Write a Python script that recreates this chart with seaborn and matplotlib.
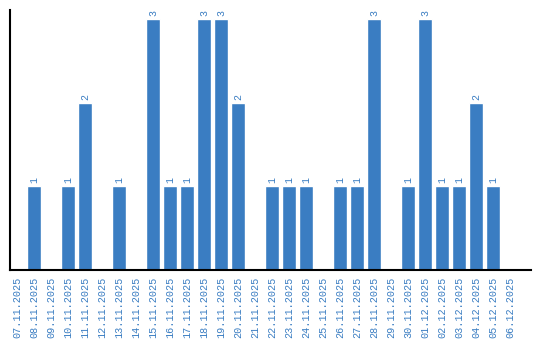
import matplotlib
matplotlib.use("Agg")
import matplotlib.pyplot as plt
import seaborn as sns
import pandas as pd

dates = ["07.11.2025", "08.11.2025", "09.11.2025", "10.11.2025", "11.11.2025",
         "12.11.2025", "13.11.2025", "14.11.2025", "15.11.2025", "16.11.2025",
         "17.11.2025", "18.11.2025", "19.11.2025", "20.11.2025", "21.11.2025",
         "22.11.2025", "23.11.2025", "24.11.2025", "25.11.2025", "26.11.2025",
         "27.11.2025", "28.11.2025", "29.11.2025", "30.11.2025", "01.12.2025",
         "02.12.2025", "03.12.2025", "04.12.2025", "05.12.2025", "06.12.2025"]
counts = [0, 1, 0, 1, 2, 0, 1, 0, 3, 1, 1, 3, 3, 2, 0,
          1, 1, 1, 0, 1, 1, 3, 0, 1, 3, 1, 1, 2, 1, 0]

BLUE = "#3a7dc2"
FONT = ["Liberation Mono", "DejaVu Sans Mono"]
df = pd.DataFrame({"date": dates, "count": counts})

sns.set_style("white")
fig = plt.figure(figsize=(5.4, 3.4), dpi=100)
ax = fig.add_axes([10.3/540, 70/340, 520.4/540, 260/340])
sns.barplot(data=df, x="date", y="count", color=BLUE, saturation=1, width=0.83, ax=ax)

for i, v in enumerate(counts):
    if v > 0:
        ax.text(i, v + 0.035, str(v), rotation=90, ha="center", va="bottom",
                color=BLUE, fontsize=7.2, family=FONT)

ax.set_xlim(-0.4, 30.2)
ax.set_ylim(0, 3.11)
ax.set_xlabel("")
ax.set_ylabel("")
ax.set_yticks([])
ax.tick_params(axis="x", length=0, pad=5)
ax.set_xticks(range(len(dates)))
ax.set_xticklabels(dates, rotation=90, color=BLUE, fontsize=7.3, family=FONT)
for s in ["top", "right"]:
    ax.spines[s].set_visible(False)
for s in ["left", "bottom"]:
    ax.spines[s].set_color("black")
    ax.spines[s].set_linewidth(1.5)

fig.savefig("out.png", dpi=100)
